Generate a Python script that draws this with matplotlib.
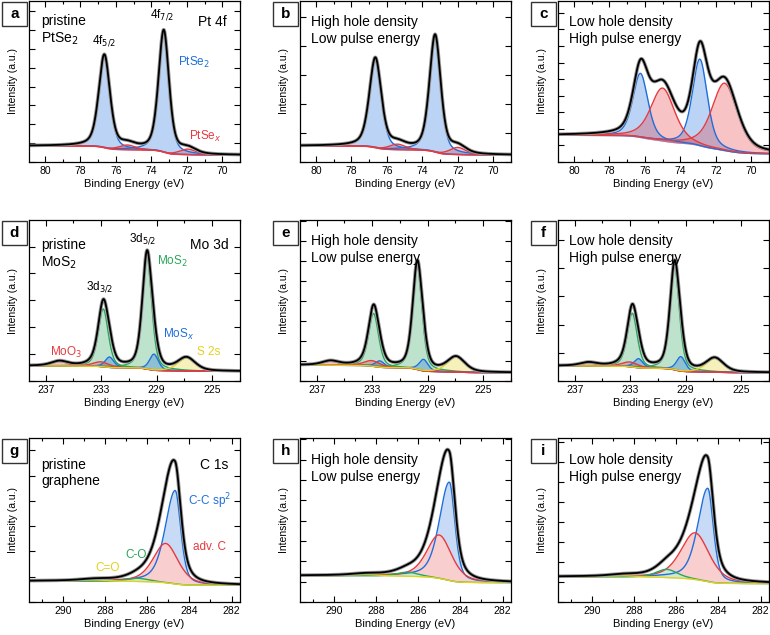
import numpy as np
import matplotlib.pyplot as plt
from matplotlib.colors import to_rgb
from matplotlib.patches import Rectangle
from matplotlib.ticker import MultipleLocator

plt.rcParams['font.family'] = ['Liberation Sans', 'DejaVu Sans']

# ---- fit components ----
# (species, centre eV, height a.u., fwhm eV, high-BE tail factor)
PEAKS_A = [("PtSe2", 76.65, 0.575, 0.75, 1.0), ("PtSe2", 73.30, 0.755, 0.70, 1.0),
           ("PtSex", 75.35, 0.030, 1.10, 1.0), ("PtSex", 71.95, 0.035, 1.10, 1.0)]
PEAKS_B = [("PtSe2", 76.65, 0.555, 0.80, 1.0), ("PtSe2", 73.28, 0.725, 0.75, 1.0),
           ("PtSex", 75.40, 0.035, 1.10, 1.0), ("PtSex", 72.00, 0.045, 1.10, 1.0)]
PEAKS_C = [("PtSe2", 76.25, 0.400, 1.00, 1.0), ("PtSe2", 72.90, 0.540, 1.00, 1.0),
           ("PtSex", 75.00, 0.330, 1.60, 1.0), ("PtSex", 71.50, 0.420, 1.70, 1.0)]

PEAKS_D = [("MoS2", 232.85, 0.360, 0.85, 1.0), ("MoS2", 229.70, 0.700, 0.80, 1.0),
           ("MoSx", 232.40, 0.065, 0.75, 1.0), ("MoSx", 229.20, 0.100, 0.75, 1.0),
           ("MoO3", 236.00, 0.028, 1.40, 1.0), ("MoO3", 233.00, 0.030, 1.40, 1.0),
           ("S2s", 226.85, 0.080, 1.50, 1.0)]
PEAKS_E = [("MoS2", 232.90, 0.330, 0.85, 1.0), ("MoS2", 229.75, 0.645, 0.80, 1.0),
           ("MoSx", 232.45, 0.040, 0.75, 1.0), ("MoSx", 229.30, 0.072, 0.75, 1.0),
           ("MoO3", 236.00, 0.025, 1.40, 1.0), ("MoO3", 233.00, 0.035, 1.40, 1.0),
           ("S2s", 226.95, 0.092, 1.50, 1.0)]
PEAKS_F = [("MoS2", 232.85, 0.335, 0.85, 1.0), ("MoS2", 229.80, 0.640, 0.80, 1.0),
           ("MoSx", 232.40, 0.057, 0.75, 1.0), ("MoSx", 229.35, 0.090, 0.75, 1.0),
           ("MoO3", 236.00, 0.020, 1.40, 1.0), ("MoO3", 233.00, 0.030, 1.40, 1.0),
           ("S2s", 226.90, 0.085, 1.50, 1.0)]

PEAKS_G = [("CC", 284.67, 0.570, 0.62, 1.8), ("advC", 285.12, 0.240, 1.40, 1.0),
           ("CO", 286.45, 0.020, 1.20, 1.0), ("C=O", 288.50, 0.008, 1.50, 1.0)]
PEAKS_H = [("CC", 284.52, 0.600, 0.62, 1.8), ("advC", 285.00, 0.265, 1.40, 1.0),
           ("CO", 286.50, 0.025, 1.20, 1.0), ("C=O", 288.50, 0.008, 1.50, 1.0)]
PEAKS_I = [("CC", 284.50, 0.570, 0.62, 1.8), ("advC", 285.10, 0.285, 1.60, 1.0),
           ("CO", 286.45, 0.050, 1.20, 1.0), ("C=O", 288.50, 0.008, 1.50, 1.0)]

# background level at the high-BE and low-BE end of each panel
BACKGROUNDS = [(0.100, 0.043), (0.100, 0.043), (0.165, 0.050),
               (0.094, 0.060), (0.099, 0.052), (0.094, 0.052),
               (0.127, 0.102), (0.160, 0.118), (0.153, 0.112)]

ROW_XLIM = [(80.9, 69.0), (238.2, 223.0), (291.6, 281.6)]
LETTERS = list("abcdefghi")
CONDITIONS = ["High hole density\nLow pulse energy", "Low hole density\nHigh pulse energy"]

LINE = {"PtSe2": "#1e6fdc", "MoSx": "#1e6fdc", "CC": "#1e6fdc",
        "PtSex": "#e63a3f", "MoO3": "#e63a3f", "advC": "#e63a3f",
        "MoS2": "#2aa55a", "CO": "#2aa55a",
        "S2s": "#e3d21c", "C=O": "#e3d21c"}
ETA = 0.45


def pseudo_voigt(e, centre, height, fwhm, asym):
    w = np.where(e > centre, fwhm * asym, fwhm)
    x = (e - centre) / w
    g = np.exp(-4 * np.log(2) * x ** 2)
    l = 1 / (1 + 4 * x ** 2)
    return height * ((1 - ETA) * g + ETA * l)


def shirley(e, total, hi, lo):
    order = np.argsort(e)
    cum = np.cumsum(total[order])
    bg = np.empty_like(e)
    bg[order] = lo + (hi - lo) * cum / cum[-1]
    return bg


def draw(ax, energy, peaks, bg_levels, opaque):
    comps = [(sp, pseudo_voigt(energy, c, h, w, a)) for sp, c, h, w, a in peaks]
    total = sum(y for _, y in comps)
    bg = shirley(energy, total, *bg_levels)
    for sp, y in comps:
        if opaque:
            rgb = np.array(to_rgb(LINE[sp]))
            ax.fill_between(energy, bg, bg + y, color=1 - 0.25 * (1 - rgb), lw=0)
        else:
            ax.fill_between(energy, bg, bg + y, color=LINE[sp], alpha=0.3, lw=0)
    for sp, y in comps:
        ax.plot(energy, bg + y, color=LINE[sp], lw=1.0)
    ax.plot(energy, bg + total, color='0.6', lw=2.6)
    ax.plot(energy, bg + total, color='k', lw=1.3)


W, H = 770, 635
fig = plt.figure(figsize=(W / 100, H / 100), dpi=100)

col_left = [29, 300, 558]
row_top = [1, 220, 438]
row_bot = [162, 381, 602]
ytick_step = [0.117, 0.18, 0.103, 0.167, 0.124, 0.175, 0.154, 0.124, 0.122]
all_peaks = [PEAKS_A, PEAKS_B, PEAKS_C, PEAKS_D, PEAKS_E, PEAKS_F, PEAKS_G, PEAKS_H, PEAKS_I]

axes = []
for k in range(9):
    r, c = divmod(k, 3)
    left, top, bot = col_left[c], row_top[r], row_bot[r]
    ax = fig.add_axes([left / W, 1 - bot / H, 211 / W, (bot - top) / H])
    axes.append(ax)
    energy = np.linspace(ROW_XLIM[r][0], ROW_XLIM[r][1], 900)
    draw(ax, energy, all_peaks[k], BACKGROUNDS[k], opaque=(r == 2))
    ax.set_xlim(*ROW_XLIM[r])
    ax.set_ylim(0, 1)
    if r == 1:
        ax.set_xticks([237, 233, 229, 225])
        ax.set_xticks([235, 231, 227, 223], minor=True)
    else:
        ax.xaxis.set_major_locator(MultipleLocator(2))
        ax.xaxis.set_minor_locator(MultipleLocator(1))
    ax.yaxis.set_major_locator(MultipleLocator(ytick_step[k]))
    ax.set_yticklabels([])
    ax.tick_params(which='both', direction='in', top=True, right=True, width=0.8,
                   labelsize=7.5, pad=3)
    ax.tick_params(which='major', length=4)
    ax.tick_params(which='minor', length=2.5)
    for s in ax.spines.values():
        s.set_linewidth(0.9)
    ax.set_xlabel('Binding Energy (eV)', fontsize=8, labelpad=2)
    ax.set_ylabel('Intensity (a.u.)', fontsize=7.5, labelpad=5)

    # panel letter box
    bx = (left - 27) / W
    by = 1 - (top + 25) / H
    fig.add_artist(Rectangle((bx, by), 25 / W, 24 / H, transform=fig.transFigure,
                             fill=False, lw=1.0, color='#333333'))
    fig.text(bx + 12.5 / W, by + 12 / H, LETTERS[k], ha='center', va='center',
             fontsize=11, fontweight='bold')

    if c > 0:
        ax.text(0.05, 0.91, CONDITIONS[c - 1], transform=ax.transAxes, ha='left',
                va='top', fontsize=10, linespacing=1.25)

a, b, cc, d, e, f, g, h, i = axes

a.text(0.057, 0.92, 'pristine\nPtSe$_2$', transform=a.transAxes, va='top', fontsize=10,
       linespacing=1.25)
a.text(0.935, 0.91, 'Pt 4f', transform=a.transAxes, va='top', ha='right', fontsize=10)
a.text(0.63, 0.87, '4f$_{7/2}$', transform=a.transAxes, ha='center', va='bottom', fontsize=8.5)
a.text(0.355, 0.71, '4f$_{5/2}$', transform=a.transAxes, ha='center', va='bottom', fontsize=8.5)
a.text(0.705, 0.62, 'PtSe$_2$', transform=a.transAxes, va='center', fontsize=8.5,
       color=LINE["PtSe2"])
a.text(0.76, 0.16, 'PtSe$_x$', transform=a.transAxes, va='center', fontsize=8.5,
       color=LINE["PtSex"])

d.text(0.057, 0.89, 'pristine\nMoS$_2$', transform=d.transAxes, va='top', fontsize=10,
       linespacing=1.25)
d.text(0.945, 0.89, 'Mo 3d', transform=d.transAxes, va='top', ha='right', fontsize=10)
d.text(0.54, 0.84, '3d$_{5/2}$', transform=d.transAxes, ha='center', va='bottom', fontsize=8.5)
d.text(0.337, 0.54, '3d$_{3/2}$', transform=d.transAxes, ha='center', va='bottom', fontsize=8.5)
d.text(0.607, 0.74, 'MoS$_2$', transform=d.transAxes, va='center', fontsize=8.5,
       color=LINE["MoS2"])
d.text(0.635, 0.29, 'MoS$_x$', transform=d.transAxes, va='center', fontsize=8.5,
       color=LINE["MoSx"])
d.text(0.10, 0.18, 'MoO$_3$', transform=d.transAxes, va='center', fontsize=8.5,
       color=LINE["MoO3"])
d.text(0.796, 0.18, 'S 2s', transform=d.transAxes, va='center', fontsize=8.5,
       color=LINE["S2s"])

g.text(0.057, 0.88, 'pristine\ngraphene', transform=g.transAxes, va='top', fontsize=10,
       linespacing=1.25)
g.text(0.945, 0.88, 'C 1s', transform=g.transAxes, va='top', ha='right', fontsize=10)
g.text(0.754, 0.616, 'C-C sp$^2$', transform=g.transAxes, va='center', fontsize=8.5,
       color=LINE["CC"])
g.text(0.777, 0.335, 'adv. C', transform=g.transAxes, va='center', fontsize=8.5,
       color=LINE["advC"])
g.text(0.455, 0.287, 'C-O', transform=g.transAxes, va='center', fontsize=8.5,
       color=LINE["CO"])
g.text(0.313, 0.207, 'C=O', transform=g.transAxes, va='center', fontsize=8.5,
       color=LINE["C=O"])

fig.savefig('out.png', dpi=100)
plt.close(fig)
